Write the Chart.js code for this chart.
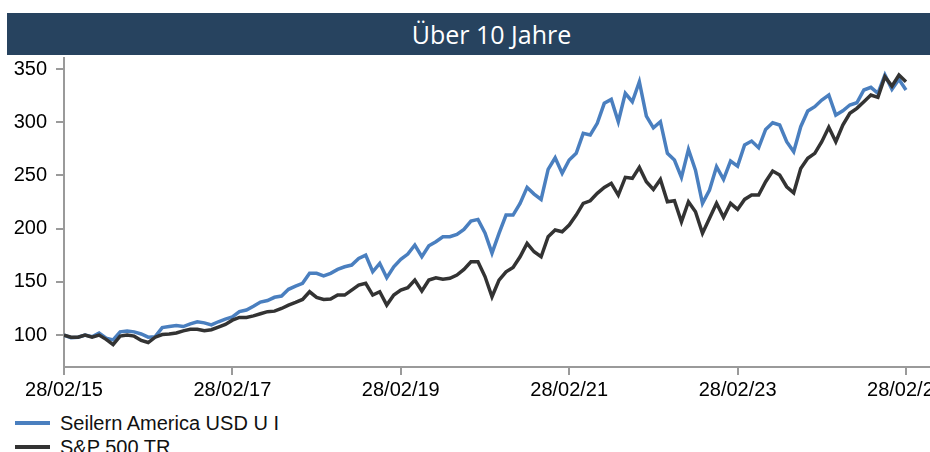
<!DOCTYPE html>
<html>
<head>
<meta charset="utf-8">
<title>Über 10 Jahre</title>
<script src="https://cdn.jsdelivr.net/npm/chart.js@4.4.1/dist/chart.umd.min.js"></script>
<style>
  html, body { margin: 0; padding: 0; background: #fff; overflow: hidden; width: 930px; height: 452px; }
  #page { position: relative; width: 980px; height: 452px; font-family: "Liberation Sans", Arial, sans-serif; }
  #title { position: absolute; left: 7px; top: 13px; width: 969px; height: 42px; background: #27435f;
           color: #fff; font: 25px "Open Sans", sans-serif; line-height: 42px; text-align: center; }
  #wrap { position: absolute; left: 0; top: 56px; width: 960px; height: 350px; }
  #legend { position: absolute; left: 15px; top: 411px; font-size: 20px; color: #111; }
  .item { height: 24px; display: flex; align-items: center; white-space: nowrap; }
  .swatch { width: 35px; height: 4px; margin-right: 10px; }
</style>
</head>
<body>
<div id="page">
  <div id="title">Über 10 Jahre</div>
  <div id="wrap"><canvas id="perfChart" width="960" height="350"></canvas></div>
  <div id="legend"></div>
</div>
<script>
// monthly values, 28/02/15 .. 28/02/25, indexed 100 at start
const seriesNames = ["Seilern America USD U I", "S&P 500 TR"];
const xTickLabels = ["28/02/15", "28/02/17", "28/02/19", "28/02/21", "28/02/23", "28/02/25"];

const seilern = [
  100, 97.5, 98, 100, 98.5, 102, 97, 95.5, 103, 103.8,
  103, 101, 98, 98.5, 107, 108, 109, 108, 110.5, 112.5,
  111.5, 109.5, 112.5, 115, 117, 122, 123.5, 127, 131, 132.5,
  135.5, 136.7, 143, 146, 148.6, 158, 158, 155.7, 158, 161.7,
  164.2, 165.8, 172, 175.2, 159.5, 167.4, 153.9, 164.2, 171.1, 176.1,
  184.6, 173.6, 183.9, 187.7, 192.4, 192.4, 194.6, 199.3, 207.1, 208.7,
  196, 177, 195.6, 212.8, 212.8, 223.8, 238.8, 232.5, 227.5, 255.7,
  266.6, 252, 264.5, 270.8, 289.6, 288, 299, 317.8, 321.5, 300.5,
  327.2, 319.3, 338.1, 305.8, 294.8, 300.5, 270.8, 264.5, 248.2, 274.5,
  255, 223.8, 236.3, 258.2, 246.3, 263.5, 258.8, 278.6, 282.3, 276,
  293.3, 299.5, 297.4, 281.7, 272.3, 295.8, 310.5, 314.6, 320.9, 325.6,
  306.8, 310.8, 316.2, 318.3, 330.3, 332.8, 327.2, 344.4, 330.9, 340.3,
  330.3
];

const sp500 = [
  100, 98, 98, 100, 98, 100, 96, 91, 99, 100,
  99, 95, 93, 98, 100.5, 101, 102, 104, 105.5, 105.5,
  104, 105, 107.5, 110, 114, 116.6, 116.6, 118, 120, 122,
  122.5, 125, 128.2, 130.7, 133.5, 140.7, 135.4, 133.5, 133.8, 137.6,
  137.6, 142.3, 147, 148.6, 137.6, 140.7, 128.2, 137.6, 142.3, 144.5,
  151.7, 141.4, 151.7, 153.9, 152.4, 153.3, 156.4, 161.7, 168.9, 168.9,
  155, 136, 151.7, 159.5, 163.6, 173.6, 186.2, 178.3, 173.6, 192.4,
  198.7, 197.1, 203.4, 212.8, 223.8, 226.2, 233.2, 238.8, 242.6, 231.6,
  248.2, 247.3, 257.6, 244.1, 236.9, 246.3, 225.3, 226.2, 206.5, 225.3,
  215.9, 195.6, 209.7, 223.8, 210.6, 223.8, 218.1, 227.5, 231.6, 231.6,
  244.1, 254.1, 250.4, 239.4, 233.7, 256.6, 266.1, 270.8, 281.7, 295.2,
  281.7, 297.4, 308.4, 313.1, 319.3, 325.6, 323.4, 342.8, 334, 344.4,
  338.1
];

const toPoints = arr => arr.map((v, i) => ({ x: i, y: v }));

Chart.defaults.font.family = '"Liberation Sans", Arial, sans-serif';

const axisGrey = '#9a9a9a';

const config = {
  type: 'line',
  data: {
    datasets: [
      {
        label: seriesNames[0],
        data: toPoints(seilern),
        borderColor: '#4a7fbf',
        borderWidth: 3.5,
        pointRadius: 0,
        tension: 0,
        order: 1
      },
      {
        label: seriesNames[1],
        data: toPoints(sp500),
        borderColor: '#333333',
        borderWidth: 3.5,
        pointRadius: 0,
        tension: 0,
        order: 0
      }
    ]
  },
  options: {
    responsive: false,
    animation: false,
    layout: { padding: { top: 2.4, left: 0, right: 0, bottom: 0 } },
    plugins: { legend: { display: false }, tooltip: { enabled: false } },
    scales: {
      x: {
        type: 'linear',
        min: 0,
        max: 127.7,
        grid: { drawOnChartArea: false, tickLength: 8, color: axisGrey, lineWidth: 2 },
        border: { color: axisGrey, width: 2 },
        ticks: {
          stepSize: 24,
          includeBounds: false,
          autoSkip: false,
          maxRotation: 0,
          padding: 3,
          color: '#000',
          font: { size: 20 },
          callback: v => xTickLabels[v / 24]
        },
        // fixed band under the plot; the last label runs off the page like the original
        afterFit: scale => { scale.height = 39; scale.paddingLeft = 0; scale.paddingRight = 0; }
      },
      y: {
        min: 70,
        max: 360,
        grid: { drawOnChartArea: false, tickLength: 8, color: axisGrey, lineWidth: 2 },
        border: { color: axisGrey, width: 2 },
        ticks: { stepSize: 50, includeBounds: false, padding: 9, color: '#000', font: { size: 20 } },
        afterFit: scale => { scale.width = 64; scale.paddingTop = 0; scale.paddingBottom = 0; }
      }
    }
  }
};

window.addEventListener('DOMContentLoaded', () => {
  new Chart(document.getElementById('perfChart'), config);

  // legend below the chart, one entry per line
  const legend = document.getElementById('legend');
  config.data.datasets.forEach(ds => {
    const item = document.createElement('div');
    item.className = 'item';
    item.innerHTML = '<span class="swatch" style="background:' + ds.borderColor + '"></span>' + ds.label;
    legend.appendChild(item);
  });
});
</script>
</body>
</html>
